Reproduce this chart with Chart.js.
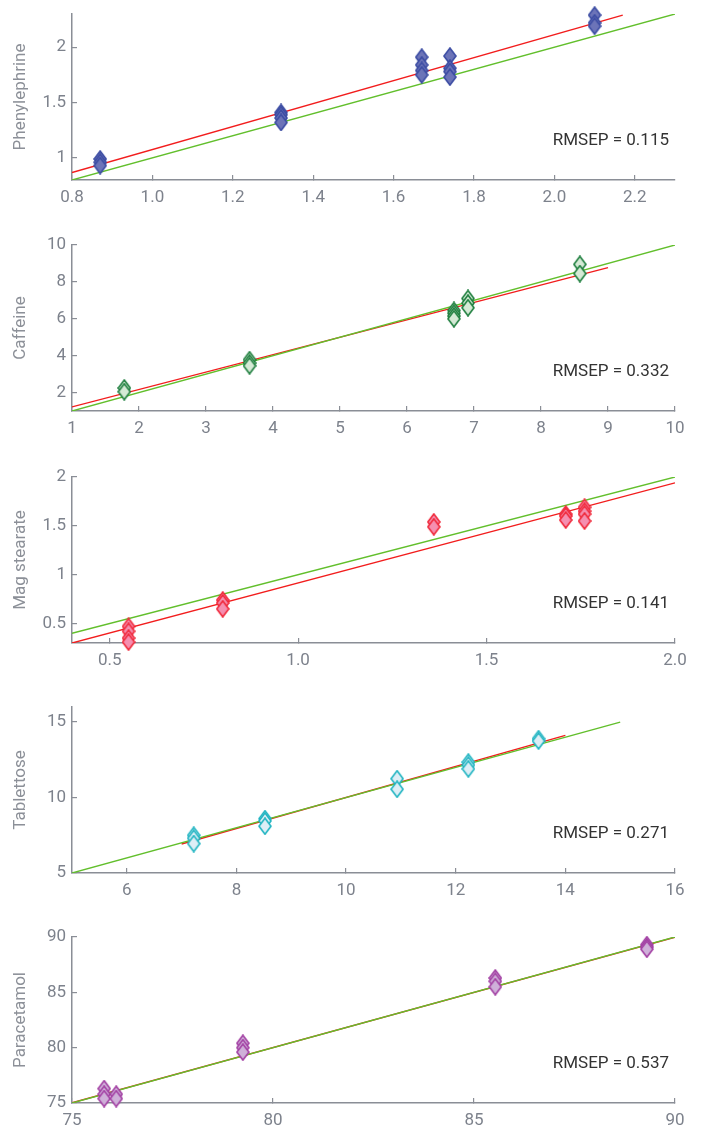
<!DOCTYPE html>
<html><head><meta charset="utf-8">
<script src="https://cdn.jsdelivr.net/npm/chart.js@4.4.0/dist/chart.umd.min.js"></script>
<style>
html,body{margin:0;padding:0;background:#fff;width:704px;height:1128px;overflow:hidden;}
.p{position:absolute;left:0;width:704px;}
</style></head><body>
<div class="p" id="w0"><canvas id="c0"></canvas></div>
<div class="p" id="w1"><canvas id="c1"></canvas></div>
<div class="p" id="w2"><canvas id="c2"></canvas></div>
<div class="p" id="w3"><canvas id="c3"></canvas></div>
<div class="p" id="w4"><canvas id="c4"></canvas></div>
<script>
// ---------- data ----------
const names = ['Phenylephrine','Caffeine','Mag stearate','Tablettose','Paracetamol'];
const rmsep = ['0.115','0.332','0.141','0.271','0.537'];

// Phenylephrine: measured (x) vs predicted (y)
const pheX = [0.87,0.87,0.87, 1.32,1.32,1.32,1.32, 1.67,1.67,1.67,1.67, 1.74,1.74,1.74,1.74, 2.10,2.10,2.10];
const pheY = [0.99,0.96,0.93, 1.41,1.39,1.36,1.32, 1.91,1.84,1.79,1.75, 1.92,1.81,1.78,1.73, 2.29,2.22,2.19];
// Caffeine
const cafX = [1.78,1.78, 3.65,3.65,3.65, 6.70,6.70,6.70,6.70, 6.91,6.91,6.91, 8.58,8.58];
const cafY = [2.25,2.05, 3.78,3.60,3.45, 6.45,6.30,6.15,6.00, 7.10,6.85,6.60, 8.95,8.45];
// Mag stearate
const magX = [0.55,0.55,0.55,0.55, 0.80,0.80,0.80, 1.36,1.36, 1.71,1.71,1.71, 1.76,1.76,1.76,1.76];
const magY = [0.47,0.42,0.35,0.31, 0.74,0.71,0.65, 1.54,1.49, 1.62,1.60,1.56, 1.69,1.65,1.62,1.55];
// Tablettose
const tabX = [7.22,7.22,7.22, 8.52,8.52,8.52, 10.93,10.93, 12.23,12.23,12.23, 13.51,13.51];
const tabY = [7.50,7.30,6.95, 8.60,8.45,8.10, 11.25,10.55, 12.35,12.15,11.90, 13.90,13.75];
// Paracetamol
const parX = [75.8,75.8,75.8, 76.1,76.1, 79.25,79.25,79.25, 85.53,85.53,85.53, 89.3,89.3,89.3];
const parY = [76.3,75.8,75.4, 75.8,75.4, 80.4,80.0,79.6, 86.3,86.0,85.5, 89.3,89.1,88.9];

// fitted (red) line end points
const redX = [[0.8,2.17],[1,9],[0.4,2.0],[7,14],[75,90]];
const redY = [[0.868,2.29],[1.22,8.77],[0.30,1.94],[6.92,14.12],[75.02,89.98]];
// ideal (green) line end points
const greenX = [[0.8,2.3],[1,10],[0.4,2.0],[5,15],[75,90]];
const greenY = [[0.8,2.3],[1,10],[0.4,2.0],[5,15],[75,90]];

// axis ranges
const xMin = [0.8,1,0.4,5,75], xMax = [2.3,10,2.0,16,90];
const yMin = [0.8,1,0.3,5,75], yMax = [2.3,10,2.0,16,90];

// ticks
const xTicks = [[0.8,1.0,1.2,1.4,1.6,1.8,2.0,2.2],[1,2,3,4,5,6,7,8,9,10],[0.5,1.0,1.5,2.0],[6,8,10,12,14,16],[75,80,85,90]];
const xTickLabels = [['0.8','1.0','1.2','1.4','1.6','1.8','2.0','2.2'],['1','2','3','4','5','6','7','8','9','10'],['0.5','1.0','1.5','2.0'],['6','8','10','12','14','16'],['75','80','85','90']];
const yTicks = [[1,1.5,2],[2,4,6,8,10],[0.5,1,1.5,2],[5,10,15],[75,80,85,90]];
const yTickLabels = [['1','1.5','2'],['2','4','6','8','10'],['0.5','1','1.5','2'],['5','10','15'],['75','80','85','90']];

const ptsX = [pheX,cafX,magX,tabX,parX];
const ptsY = [pheY,cafY,magY,tabY,parY];

// ---------- styles ----------
const fills   = ['#6c74b8','#d5ead6','#f58fb0','#ddeef6','#cfb0d9'];
const strokes = ['#3b4ca3','#1f7f3f','#f0283a','#22b5c2','#a23fa3'];
const plotTop = [14,245,477,707,937];
const PLOT_H = 166, PAD_T = 12, XAX_H = 40, YAX_W = 72, PAD_R = 29;
const AXIS_C = '#8a8e96', TICK_C = '#7d828c';

function diamond(fill, stroke){
  const c = document.createElement('canvas');
  c.width = 14; c.height = 18;
  const g = c.getContext('2d');
  g.beginPath();
  g.moveTo(7,1); g.lineTo(13,9); g.lineTo(7,17); g.lineTo(1,9); g.closePath();
  g.fillStyle = fill; g.fill();
  g.lineWidth = 1.6; g.strokeStyle = stroke; g.stroke();
  return c;
}

const rmsepPlugin = {
  id:'rmsep',
  afterDraw(chart, args, opts){
    const ca = chart.chartArea, ctx = chart.ctx;
    ctx.save();
    ctx.font = '17px Roboto';
    ctx.fillStyle = '#333333';
    ctx.textAlign = 'right';
    ctx.textBaseline = 'middle';
    ctx.fillText('RMSEP = ' + opts.text, ca.right - 6, ca.bottom - 39);
    ctx.restore();
  }
};

Chart.defaults.font.family = 'Roboto';
Chart.defaults.font.size = 17;

for (let i = 0; i < 5; i++){
  const wrap = document.getElementById('w'+i);
  wrap.style.top = (plotTop[i] - PAD_T) + 'px';
  const cv = document.getElementById('c'+i);
  const H = PAD_T + PLOT_H + XAX_H;
  cv.width = 704; cv.height = H;
  cv.style.width = '704px'; cv.style.height = H + 'px';

  const pts = ptsX[i].map((x,k)=>({x:x, y:ptsY[i][k]}));
  const red = redX[i].map((x,k)=>({x:x, y:redY[i][k]}));
  const green = greenX[i].map((x,k)=>({x:x, y:greenY[i][k]}));
  const marker = diamond(fills[i], strokes[i]);

  new Chart(cv, {
    type:'scatter',
    data:{datasets:[
      {data:pts, pointStyle:marker, pointRadius:8, clip:false, showLine:false},
      {data:green, showLine:true, pointRadius:0, borderColor:'#62bf2c', borderWidth:1.4, fill:false},
      {data:red, showLine:true, pointRadius:0, borderColor:'#f21d1d', borderWidth:1.4, fill:false}
    ]},
    options:{
      responsive:false, animation:false, devicePixelRatio:1,
      layout:{padding:{top:PAD_T, right:PAD_R, left:0, bottom:0}},
      plugins:{legend:{display:false}, tooltip:{enabled:false}, rmsep:{text:rmsep[i]}},
      scales:{
        x:{type:'linear', min:xMin[i], max:xMax[i],
          afterBuildTicks(s){ s.ticks = xTicks[i].map(v=>({value:v})); },
          afterFit(s){ s.height = XAX_H; s.paddingLeft = 0; s.paddingRight = 0; },
          ticks:{autoSkip:false, maxRotation:0, color:TICK_C, padding:13, font:{size:17},
            callback:(v,idx)=>xTickLabels[i][idx]},
          grid:{drawOnChartArea:false, drawTicks:true, tickLength:-5, color:AXIS_C, lineWidth:1.2},
          border:{display:true, color:AXIS_C, width:1.5}
        },
        y:{type:'linear', min:yMin[i], max:yMax[i],
          afterBuildTicks(s){ s.ticks = yTicks[i].map(v=>({value:v})); },
          afterFit(s){ s.width = YAX_W; s.paddingTop = 0; s.paddingBottom = 0; },
          ticks:{autoSkip:false, color:TICK_C, padding:11, font:{size:17},
            callback:(v,idx)=>yTickLabels[i][idx]},
          grid:{drawOnChartArea:false, drawTicks:true, tickLength:-5, color:AXIS_C, lineWidth:1.2},
          border:{display:true, color:AXIS_C, width:1.5},
          title:{display:true, text:names[i], color:'#8c9098', font:{size:17}, padding:{top:11,bottom:0}}
        }
      }
    },
    plugins:[rmsepPlugin]
  });
}
</script>
</body></html>
